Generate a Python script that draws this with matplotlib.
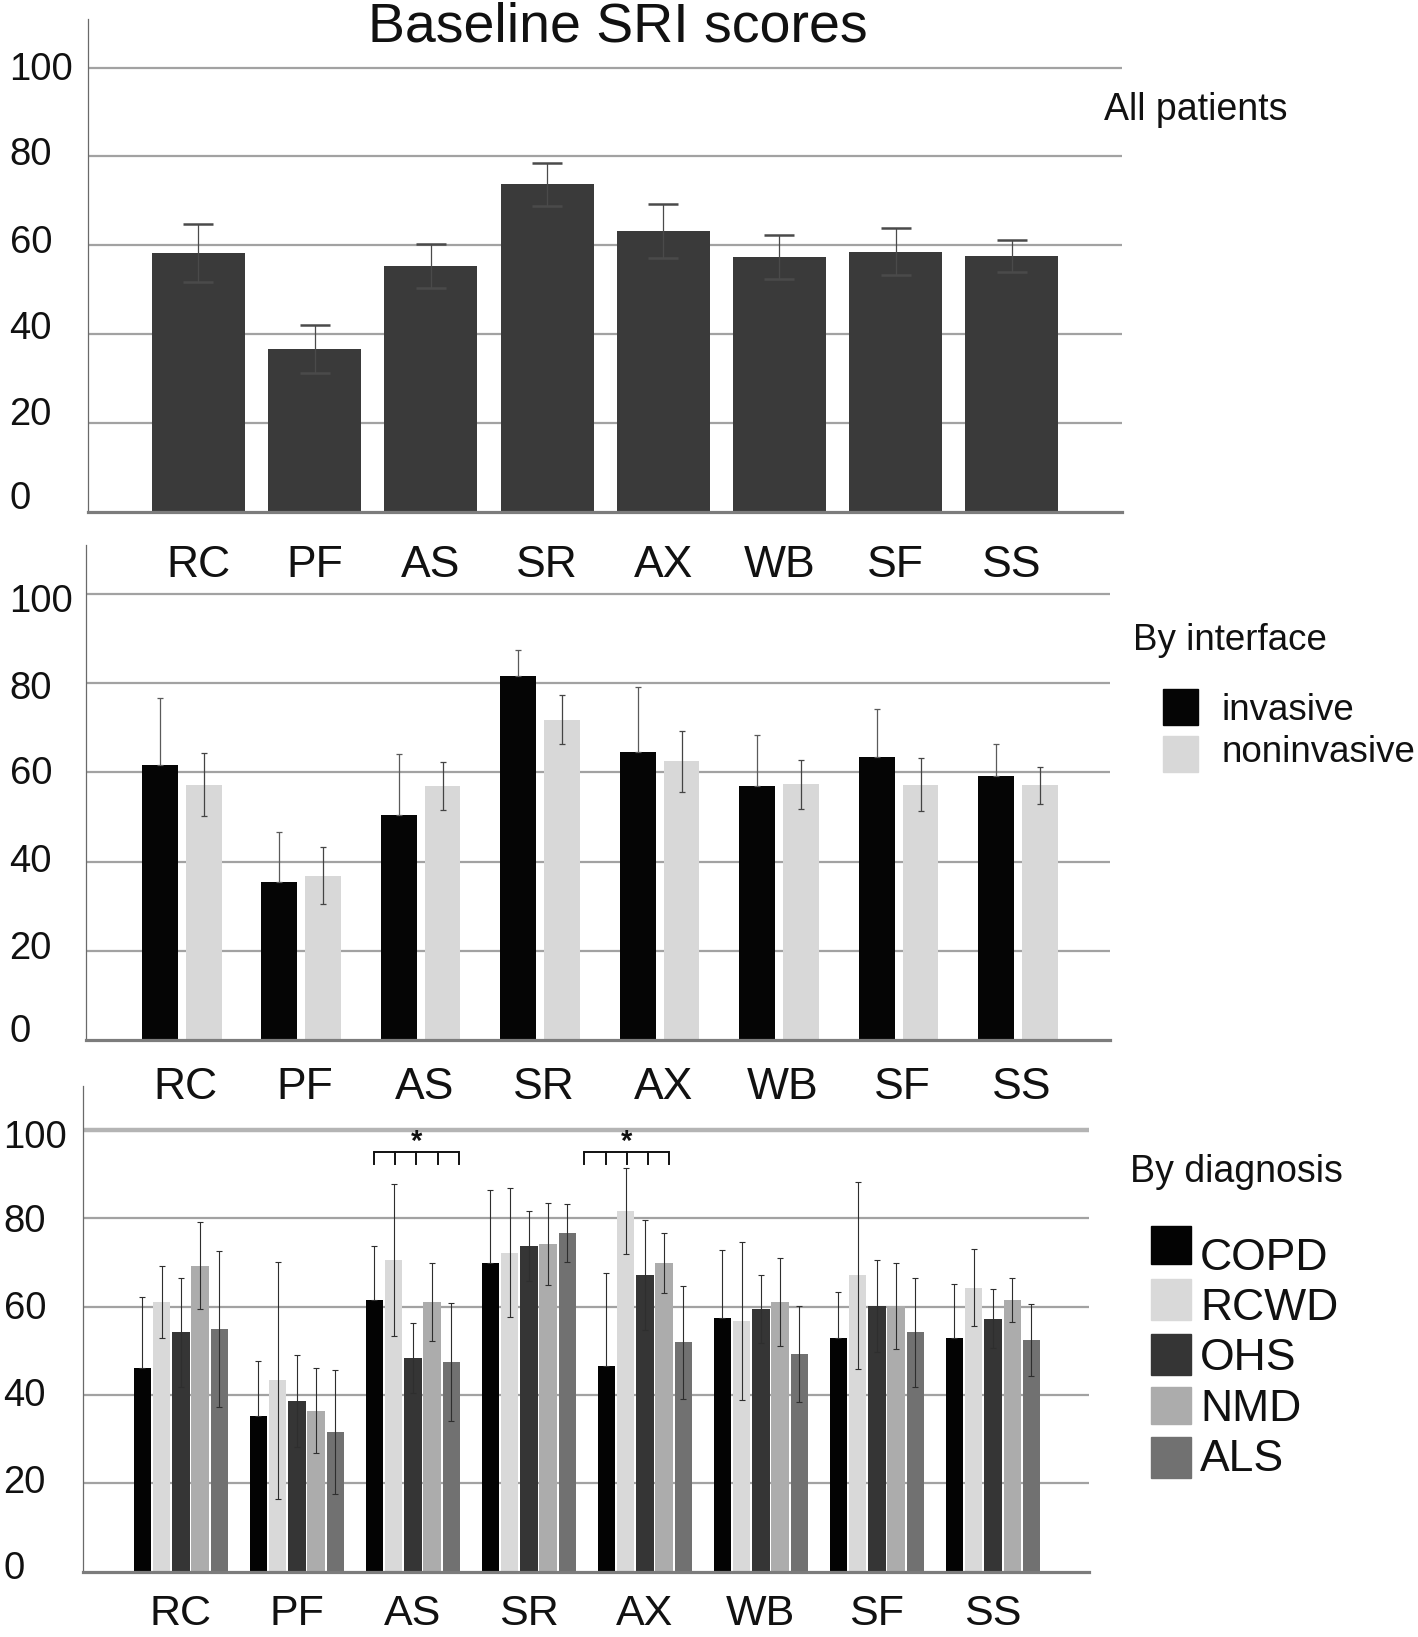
import matplotlib
matplotlib.use('Agg')
import matplotlib.pyplot as plt
import numpy as np
from matplotlib.patches import Rectangle
from matplotlib import transforms

plt.rcParams['font.family'] = ['Liberation Sans', 'DejaVu Sans']

# ---------------- data ----------------
domains = ['RC', 'PF', 'AS', 'SR', 'AX', 'WB', 'SF', 'SS']
y_ticks = [0, 20, 40, 60, 80, 100]

all_mean = [58.3, 36.7, 55.4, 73.7, 63.2, 57.3, 58.6, 57.5]
all_err = [6.5, 5.4, 5.0, 4.8, 6.1, 5.0, 5.3, 3.6]

iface_labels = ['invasive', 'noninvasive']
inv_mean = [61.6, 35.5, 50.4, 81.6, 64.7, 57.0, 63.5, 59.3]
inv_err = [15.2, 11.2, 13.8, 5.9, 14.5, 11.3, 10.7, 7.0]
noninv_mean = [57.3, 36.8, 56.9, 71.8, 62.5, 57.4, 57.3, 57.1]
noninv_err = [7.0, 6.4, 5.4, 5.5, 6.9, 5.5, 6.0, 4.2]

diag_labels = ['COPD', 'RCWD', 'OHS', 'NMD', 'ALS']
copd_mean = [46.2, 35.3, 61.5, 69.9, 46.6, 57.5, 53.0, 52.8]
copd_err = [15.9, 12.5, 12.3, 16.6, 21.0, 15.4, 10.3, 12.4]
rcwd_mean = [61.1, 43.3, 70.6, 72.2, 81.7, 56.7, 67.1, 64.3]
rcwd_err = [8.1, 26.8, 17.3, 14.6, 9.8, 17.9, 21.2, 8.7]
ohs_mean = [54.2, 38.7, 48.3, 73.8, 67.2, 59.4, 60.2, 57.3]
ohs_err = [12.4, 10.4, 7.9, 7.9, 12.5, 7.7, 10.4, 6.6]
nmd_mean = [69.3, 36.4, 61.1, 74.2, 70.0, 61.0, 60.1, 61.6]
nmd_err = [9.8, 9.6, 8.9, 9.3, 6.8, 10.0, 9.7, 5.0]
als_mean = [54.9, 31.6, 47.5, 76.7, 51.9, 49.3, 54.2, 52.5]
als_err = [17.7, 14.0, 13.3, 6.6, 12.8, 10.8, 12.3, 8.2]

sig_domains = ['AS', 'AX']
sig_level = 95.0

# ---------------- layout ----------------
W, H = 1418, 1637
fig = plt.figure(figsize=(W / 100, H / 100), dpi=100)

def fx(px):
    return px / W

def fy(py):
    return 1 - py / H

GRID = '#a2a2a2'
TXT = '#111111'
x = np.arange(len(domains))

def style_axes(ax, ylim_top, xlim, ylab_x, ylab_off, fs=27.5):
    ax.patch.set_visible(False)
    ax.set_xlim(*xlim)
    ax.set_ylim(0, ylim_top)
    for s in ['top', 'right']:
        ax.spines[s].set_visible(False)
    ax.spines['left'].set_color('#6a6a6a')
    ax.spines['left'].set_linewidth(0.9)
    ax.spines['bottom'].set_color('#7c7c7c')
    ax.spines['bottom'].set_linewidth(2.3)
    ax.set_xticks([])
    ax.set_yticks([])
    for v in y_ticks[1:]:
        ax.axhline(v, color=GRID, lw=1.6, zorder=0)
    tr = transforms.blended_transform_factory(fig.transFigure, ax.transData)
    for v, off in zip(y_ticks, ylab_off):
        t = transforms.offset_copy(tr, fig=fig, x=0, y=off, units='dots')
        ax.text(fx(ylab_x), v, str(v), transform=t, ha='left', va='center',
                fontsize=fs, color=TXT)

def xlabels(ax, centers, base_px, fs=32):
    tr = transforms.blended_transform_factory(ax.transData, fig.transFigure)
    for c, lab in zip(centers, domains):
        ax.text(c, fy(base_px), lab, transform=tr, ha='center', va='baseline',
                fontsize=fs, color=TXT)

# ---------------- panel 1: all patients ----------------
ax1 = fig.add_axes([0.0619, 0.6874, 0.7297, 0.3011])
style_axes(ax1, 111, (-0.953, 7.953), 9.5, [12.5, 8.3, 5.2, 2, 1, -2])
ax1.bar(x, all_mean, width=0.80, color='#3a3a3a', zorder=2)
eb = ax1.errorbar(x, all_mean, yerr=all_err, fmt='none', ecolor='#4a4a4a',
                  elinewidth=0.9, capsize=11, capthick=1.8, zorder=3)
for cl in eb[1]:
    cl.set_color('#9a9a9a')
xlabels(ax1, x, 577)
fig.text(0.436, fy(42), 'Baseline SRI scores', ha='center', va='baseline',
         fontsize=40, color=TXT)
fig.text(fx(1104), fy(120), 'All patients', ha='left', va='baseline',
         fontsize=27, color=TXT)

# ---------------- panel 2: by interface ----------------
ax2 = fig.add_axes([0.0604, 0.3647, 0.7224, 0.3023])
style_axes(ax2, 111, (-0.804, 7.769), 9.5, [8.3, 2, 0, -2, -5.2, -8.3])
off2 = 0.183
ax2.bar(x - off2, inv_mean, width=0.30, color='#050505', zorder=2)
ax2.bar(x + off2, noninv_mean, width=0.30, color='#d8d8d8', zorder=2)
ax2.errorbar(x - off2, inv_mean, yerr=[np.zeros(len(inv_err)), inv_err], fmt='none',
             ecolor='#5a5a5a', elinewidth=0.9, capsize=2.5, capthick=0.9, zorder=3)
ax2.errorbar(x + off2, noninv_mean, yerr=noninv_err, fmt='none', ecolor='#444444',
             elinewidth=0.9, capsize=2.5, capthick=0.9, zorder=3)
xlabels(ax2, x + 0.03, 1099)
fig.text(fx(1133), fy(650), 'By interface', ha='left', va='baseline',
         fontsize=26.5, color=TXT)
leg2_y = [(689, 725), (736, 772)]
leg2_base = [720, 762]
leg2_c = ['#050505', '#d8d8d8']
for (y0, y1), b, c, lab in zip(leg2_y, leg2_base, leg2_c, iface_labels):
    fig.patches.append(Rectangle((fx(1163), fy(y1)), fx(35), (y1 - y0) / H,
                                 transform=fig.transFigure, color=c))
    fig.text(fx(1222), fy(b), lab, ha='left', va='baseline',
             fontsize=26.5, color=TXT)

# ---------------- panel 3: by diagnosis ----------------
ax3 = fig.add_axes([0.0582, 0.0400, 0.7098, 0.2966])
style_axes(ax3, 110, (-0.847, 7.828), 3.5, [3, 0, -1, -2, -4, -8])
ax3.axhline(100, color='#b4b4b4', lw=3.2, zorder=0)
diag_means = [copd_mean, rcwd_mean, ohs_mean, nmd_mean, als_mean]
diag_errs = [copd_err, rcwd_err, ohs_err, nmd_err, als_err]
diag_colors = ['#030303', '#d9d9d9', '#353535', '#acacac', '#717171']
pitch = 0.166
for i, (m, e, c) in enumerate(zip(diag_means, diag_errs, diag_colors)):
    xi = x + (i - 2) * pitch
    ax3.bar(xi, m, width=0.150, color=c, zorder=2)
    yerr = [np.zeros(len(e)), e] if i == 0 else e
    ax3.errorbar(xi, m, yerr=yerr, fmt='none', ecolor='#2e2e2e', elinewidth=0.8,
                 capsize=2, capthick=0.8, zorder=3)
# significance brackets (hand-placed in the original)
sig_shift = [0.03, -0.155]
br_pitch = 0.183
for d, sh in zip(sig_domains, sig_shift):
    g = domains.index(d) + sh
    xs = g + (np.arange(5) - 2) * br_pitch
    ax3.plot([xs[0], xs[-1]], [sig_level, sig_level], color=TXT, lw=1.4,
             zorder=4, solid_capstyle='butt')
    for xv in xs:
        ax3.plot([xv, xv], [sig_level, sig_level - 2.6], color=TXT, lw=1.4, zorder=4)
    ax3.text(g, sig_level + 2.3, '*', ha='center', va='center', fontsize=21,
             fontweight='bold', color=TXT)
xlabels(ax3, x, 1625, fs=31)
fig.text(fx(1130), fy(1182), 'By diagnosis', ha='left', va='baseline',
         fontsize=27, color=TXT)
leg3_y = [(1226, 1264), (1279, 1320), (1334, 1375), (1387, 1424), (1437, 1478)]
leg3_base = [1270, 1320, 1370, 1421, 1471]
for (y0, y1), b, c, lab in zip(leg3_y, leg3_base, diag_colors, diag_labels):
    fig.patches.append(Rectangle((fx(1151), fy(y1)), fx(40), (y1 - y0) / H,
                                 transform=fig.transFigure, color=c))
    fig.text(fx(1200), fy(b), lab, ha='left', va='baseline',
             fontsize=32, color=TXT)

fig.savefig('out.png', dpi=100)
